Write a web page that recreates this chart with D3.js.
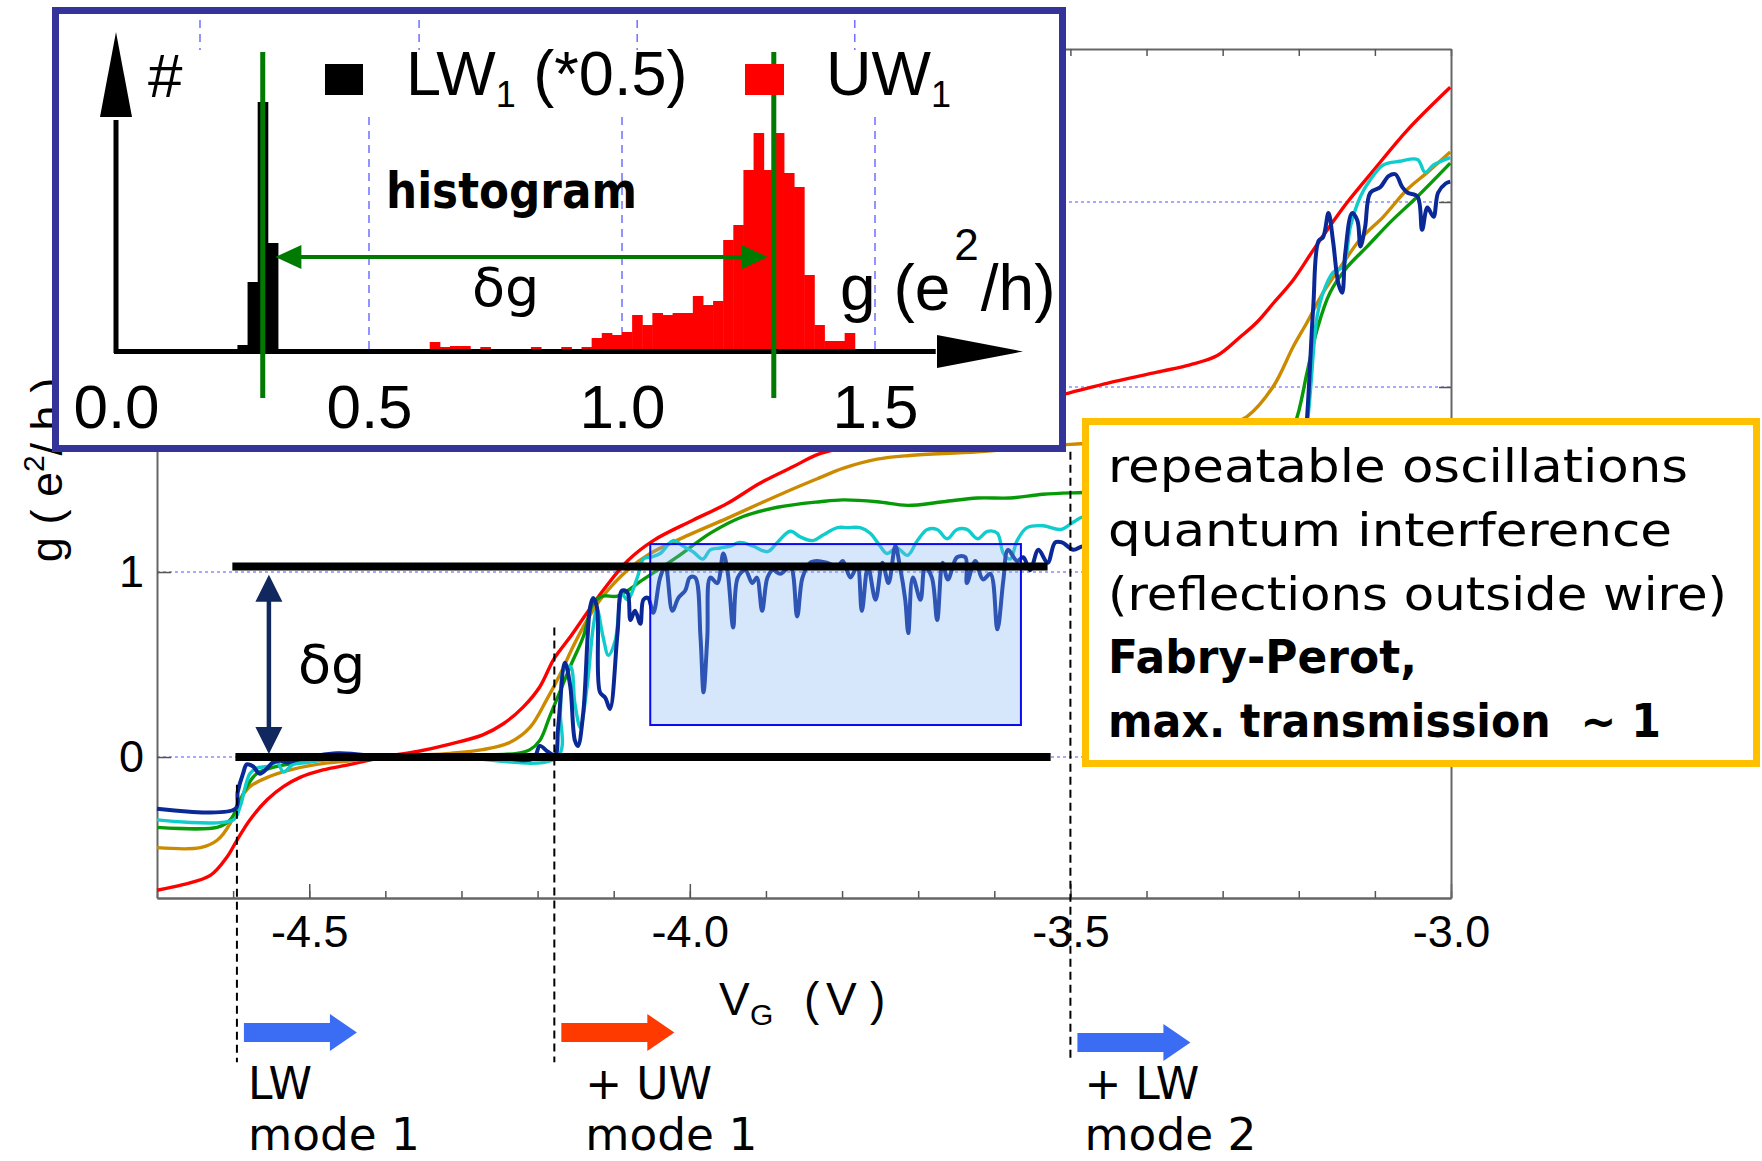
<!DOCTYPE html>
<html lang="en">
<head><meta charset="utf-8">
<title>Conductance steps - D3</title>
<style>
body {
  margin: 0;
  background: #ffffff;
}
.arial { font-family: "Liberation Sans", Arial, sans-serif; }
.gothic { font-family: "DejaVu Sans", sans-serif; }
</style>
</head>
<body>
<svg id="chart"></svg>
<script src="https://d3js.org/d3.v7.min.js"></script>
<script>

var width = 1762, height = 1161;

// gate voltage (V), conductance g (e^2/h)
var redTrace = [[-4.700,-0.72],[-4.666,-0.69],[-4.630,-0.64],[-4.608,-0.54],[-4.595,-0.45],[-4.578,-0.34],[-4.555,-0.23],[-4.534,-0.16],[-4.512,-0.11],[-4.482,-0.07],[-4.446,-0.04],[-4.403,0.00],[-4.358,0.03],[-4.315,0.07],[-4.272,0.12],[-4.245,0.18],[-4.219,0.27],[-4.197,0.38],[-4.180,0.52],[-4.170,0.58],[-4.157,0.65],[-4.135,0.78],[-4.114,0.90],[-4.082,1.06],[-4.048,1.17],[-3.996,1.28],[-3.951,1.37],[-3.908,1.48],[-3.864,1.57],[-3.829,1.64],[-3.724,1.74],[-3.619,1.86],[-3.500,1.97],[-3.452,2.02],[-3.386,2.08],[-3.343,2.12],[-3.307,2.17],[-3.277,2.27],[-3.255,2.35],[-3.234,2.45],[-3.207,2.58],[-3.181,2.74],[-3.159,2.87],[-3.136,3.00],[-3.102,3.17],[-3.057,3.39],[-3.001,3.62]];

var orangeTrace = [[-4.700,-0.49],[-4.643,-0.49],[-4.621,-0.45],[-4.604,-0.36],[-4.591,-0.23],[-4.578,-0.16],[-4.555,-0.11],[-4.525,-0.07],[-4.490,-0.04],[-4.446,-0.02],[-4.403,0.00],[-4.358,0.01],[-4.315,0.02],[-4.272,0.04],[-4.236,0.08],[-4.210,0.16],[-4.188,0.31],[-4.170,0.45],[-4.153,0.60],[-4.135,0.74],[-4.114,0.87],[-4.082,1.01],[-4.052,1.10],[-3.996,1.21],[-3.951,1.29],[-3.908,1.37],[-3.864,1.45],[-3.829,1.51],[-3.799,1.56],[-3.754,1.61],[-3.711,1.63],[-3.622,1.65],[-3.500,1.69],[-3.395,1.71],[-3.329,1.76],[-3.290,1.80],[-3.268,1.84],[-3.234,2.00],[-3.207,2.22],[-3.189,2.35],[-3.168,2.51],[-3.145,2.65],[-3.119,2.80],[-3.089,2.92],[-3.057,3.07],[-3.031,3.16],[-3.001,3.27]];

var greenTrace = [[-4.700,-0.38],[-4.621,-0.38],[-4.604,-0.34],[-4.594,-0.27],[-4.582,-0.16],[-4.569,-0.09],[-4.542,-0.05],[-4.512,-0.03],[-4.469,-0.01],[-4.227,0.02],[-4.210,0.04],[-4.197,0.09],[-4.184,0.22],[-4.170,0.36],[-4.157,0.49],[-4.140,0.65],[-4.127,0.83],[-4.114,0.87],[-4.095,0.87],[-4.061,0.96],[-4.017,1.08],[-3.973,1.21],[-3.930,1.30],[-3.885,1.35],[-3.829,1.38],[-3.799,1.39],[-3.754,1.38],[-3.714,1.36],[-3.667,1.38],[-3.622,1.40],[-3.579,1.40],[-3.536,1.42],[-3.483,1.43],[-3.329,1.45],[-3.251,1.50],[-3.224,1.60],[-3.202,1.84],[-3.189,2.08],[-3.176,2.31],[-3.159,2.51],[-3.136,2.65],[-3.110,2.76],[-3.080,2.89],[-3.044,3.03],[-3.001,3.21]];

var cyanTrace = [[-4.700,-0.34],[-4.600,-0.34],[-4.591,-0.27],[-4.584,-0.16],[-4.578,-0.09],[-4.569,-0.06],[-4.555,-0.05],[-4.542,-0.03],[-4.534,-0.08],[-4.521,-0.04],[-4.503,-0.03],[-4.469,-0.01],[-4.315,0.00],[-4.174,0.00],[-4.170,0.25],[-4.166,0.47],[-4.157,0.49],[-4.151,0.29],[-4.144,0.16],[-4.135,0.38],[-4.127,0.70],[-4.122,0.80],[-4.114,0.65],[-4.107,0.55],[-4.098,0.63],[-4.089,0.88],[-4.082,0.85],[-4.069,0.97],[-4.061,1.07],[-4.052,1.08],[-4.039,1.10],[-4.022,1.17],[-4.009,1.14],[-3.996,1.11],[-3.983,1.07],[-3.973,1.12],[-3.960,1.13],[-3.947,1.14],[-3.934,1.16],[-3.917,1.14],[-3.898,1.11],[-3.885,1.16],[-3.868,1.22],[-3.855,1.19],[-3.838,1.17],[-3.825,1.20],[-3.806,1.24],[-3.793,1.24],[-3.776,1.24],[-3.763,1.21],[-3.750,1.14],[-3.741,1.10],[-3.728,1.13],[-3.714,1.09],[-3.701,1.17],[-3.688,1.23],[-3.675,1.23],[-3.662,1.18],[-3.649,1.23],[-3.636,1.23],[-3.622,1.18],[-3.609,1.22],[-3.596,1.21],[-3.588,1.10],[-3.579,1.07],[-3.570,1.17],[-3.557,1.24],[-3.536,1.25],[-3.513,1.23],[-3.496,1.27],[-3.483,1.30],[-3.395,1.32],[-3.290,1.35],[-3.211,1.44],[-3.192,1.71],[-3.176,2.38],[-3.168,2.51],[-3.155,2.62],[-3.142,2.65],[-3.132,2.87],[-3.119,3.03],[-3.106,3.12],[-3.089,3.20],[-3.067,3.22],[-3.044,3.23],[-3.034,3.16],[-3.023,3.20],[-3.001,3.24]];

var navyTrace = [[-4.700,-0.28],[-4.597,-0.28],[-4.594,-0.19],[-4.587,-0.09],[-4.582,-0.04],[-4.574,-0.05],[-4.565,-0.09],[-4.555,-0.06],[-4.548,-0.03],[-4.538,-0.02],[-4.529,-0.03],[-4.521,-0.02],[-4.463,0.02],[-4.403,0.00],[-4.350,-0.01],[-4.319,-0.01],[-4.272,0.01],[-4.206,-0.01],[-4.197,0.06],[-4.187,0.03],[-4.177,0.01],[-4.173,0.16],[-4.164,0.51],[-4.157,0.38],[-4.151,0.09],[-4.147,0.06],[-4.140,0.24],[-4.131,0.81],[-4.127,0.86],[-4.122,0.81],[-4.118,0.35],[-4.111,0.32],[-4.105,0.26],[-4.095,0.67],[-4.089,0.90],[-4.082,0.89],[-4.078,0.74],[-4.072,0.79],[-4.065,0.72],[-4.061,0.85],[-4.055,0.86],[-4.048,0.78],[-4.039,0.97],[-4.032,1.03],[-4.023,0.79],[-4.015,0.86],[-4.006,0.90],[-4.000,0.97],[-3.993,0.97],[-3.986,0.65],[-3.982,0.35],[-3.977,0.65],[-3.973,0.97],[-3.964,0.94],[-3.956,1.10],[-3.950,0.99],[-3.943,0.70],[-3.937,0.97],[-3.927,1.01],[-3.918,0.94],[-3.912,0.97],[-3.905,0.79],[-3.898,0.97],[-3.891,1.01],[-3.881,0.99],[-3.868,1.03],[-3.859,0.76],[-3.852,0.97],[-3.842,1.05],[-3.833,1.06],[-3.820,1.05],[-3.806,1.03],[-3.799,1.06],[-3.789,0.97],[-3.780,1.03],[-3.774,0.79],[-3.766,1.03],[-3.756,0.85],[-3.747,1.05],[-3.739,0.94],[-3.730,1.14],[-3.724,1.03],[-3.717,0.85],[-3.713,0.67],[-3.707,0.97],[-3.697,0.85],[-3.691,1.03],[-3.682,0.97],[-3.675,0.74],[-3.668,1.05],[-3.661,0.96],[-3.649,1.08],[-3.638,1.08],[-3.636,0.94],[-3.625,1.06],[-3.615,0.96],[-3.605,0.99],[-3.596,0.69],[-3.588,0.96],[-3.582,1.12],[-3.570,1.06],[-3.562,1.08],[-3.553,1.01],[-3.542,1.12],[-3.530,1.05],[-3.520,1.16],[-3.511,1.16],[-3.496,1.12],[-3.483,1.14],[-3.395,1.13],[-3.290,1.15],[-3.211,1.17],[-3.198,1.39],[-3.189,1.84],[-3.181,2.43],[-3.174,2.79],[-3.168,2.81],[-3.161,2.94],[-3.155,2.79],[-3.148,2.56],[-3.143,2.51],[-3.139,2.72],[-3.130,2.94],[-3.123,2.90],[-3.119,2.76],[-3.113,2.86],[-3.106,3.05],[-3.093,3.08],[-3.082,3.14],[-3.073,3.15],[-3.064,3.08],[-3.057,3.05],[-3.044,3.03],[-3.038,2.85],[-3.031,2.97],[-3.023,2.92],[-3.017,3.05],[-3.007,3.10],[-3.001,3.11]];

var traceColors = ["#ff0000", "#cc8a00", "#079a07", "#10cccc", "#0a2896"];

var xMinorTicks = [-4.7,-4.6,-4.5,-4.4,-4.3,-4.2,-4.1,-4.0,-3.9,-3.8,-3.7,-3.6,-3.5,-3.4,-3.3,-3.2,-3.1,-3.0];
var xMajorTicks = [-4.5, -4.0, -3.5, -3.0];
var yTicks = [0, 1, 2, 3];

var levelG = [1.03, 0];
var levelStart = [-4.601, -4.597];
var levelEnd = [-3.530, -3.526];

var windowV = [-4.052, -3.565];
var windowG = [0.173, 1.151];

var modeV = [-4.595, -4.178, -3.5];
var modeTopG = [-0.15, 0.70, 1.65];
var modeLine1 = ["LW", "+ UW", "+ LW"];
var modeLine2 = ["mode 1", "mode 1", "mode 2"];
var modeColors = ["#3a6cf4", "#ff3a00", "#3a6cf4"];

var deltaV = -4.553;

// inset histogram, bins of 0.02 e^2/h, counts in arbitrary units
var lwBinStart = [0.24, 0.26, 0.28, 0.30];
var lwCounts = [5, 68, 248, 107];
var uwBinStart = [0.62,0.64,0.66,0.68,0.70,0.72,0.74,0.76,0.78,0.80,0.82,0.84,0.86,0.88,0.90,0.92,0.94,0.96,0.98,1.00,1.02,1.04,1.06,1.08,1.10,1.12,1.14,1.16,1.18,1.20,1.22,1.24,1.26,1.28,1.30,1.32,1.34,1.36,1.38,1.40,1.42,1.44];
var uwCounts = [8,3,4,4,0,3,0,0,0,0,3,0,0,3,0,3,12,17,15,18,35,25,37,35,37,37,54,45,49,110,125,180,217,180,217,177,163,75,25,9,9,17];
var binWidth = 0.02;
var insetTicks = [0.0, 0.5, 1.0, 1.5];
var insetMarkers = [0.29, 1.30];
var insetTopGrid = [0.166, 0.599, 1.030, 1.460];

var noteLines = ["repeatable oscillations", "quantum interference", "(reflections outside wire)", "Fabry-Perot,", "max. transmission  ~ 1"];
var noteBold = [false, false, false, true, true];
var noteLength = [580, 564, 619, 309, 553];

var svg = d3.select("#chart")
    .attr("width", width)
    .attr("height", height);

var x = d3.scaleLinear().domain([-4.7, -3.0]).range([157, 1451]);
var y = d3.scaleLinear().domain([-0.762, 3.827]).range([898, 49]);

// dotted grid
svg.append("g").selectAll("line").data(yTicks).join("line")
    .attr("x1", x(-4.7)).attr("x2", x(-3.0))
    .attr("y1", d => y(d)).attr("y2", d => y(d))
    .attr("stroke", "#8c8cff").attr("stroke-width", 1.5)
    .attr("stroke-dasharray", "3,3");

function styleAxis(g) {
  g.select(".domain").attr("stroke", "#666").attr("stroke-width", 2);
  g.selectAll(".tick line").attr("stroke", "#555").attr("stroke-width", 1.5);
  g.attr("font-family", "Liberation Sans, Arial, sans-serif").attr("font-size", 45);
}

svg.append("g").attr("transform", "translate(0,898)")
    .call(d3.axisBottom(x).tickValues(xMinorTicks).tickSize(-7).tickSizeOuter(0).tickFormat(""))
    .call(styleAxis);
svg.append("g").attr("transform", "translate(0,898)")
    .call(d3.axisBottom(x).tickValues(xMajorTicks).tickSize(-14).tickSizeOuter(0).tickPadding(17)
      .tickFormat(d => d.toFixed(1)))
    .call(styleAxis);
svg.append("g").attr("transform", "translate(0,49)")
    .call(d3.axisTop(x).tickValues(xMinorTicks).tickSize(-7).tickSizeOuter(0).tickFormat(""))
    .call(styleAxis);
svg.append("g").attr("transform", "translate(157,0)")
    .call(d3.axisLeft(y).tickValues(yTicks).tickSize(-14).tickSizeOuter(0).tickPadding(13)
      .tickFormat(d3.format("d")))
    .call(styleAxis);
svg.append("g").attr("transform", "translate(1451,0)")
    .call(d3.axisRight(y).tickValues(yTicks).tickSize(-12).tickSizeOuter(0).tickFormat(""))
    .call(styleAxis);

// traces
var line = d3.line()
    .x(d => x(d[0]))
    .y(d => y(d[1]))
    .curve(d3.curveCatmullRom.alpha(0.5));

[redTrace, orangeTrace, greenTrace, cyanTrace, navyTrace].forEach(function(t, i) {
  svg.append("path")
      .datum(t)
      .attr("d", line)
      .attr("fill", "none")
      .attr("stroke", traceColors[i])
      .attr("stroke-width", i == 4 ? 4 : 3.4)
      .attr("stroke-linejoin", "round");
});

// shaded window
svg.append("rect")
    .attr("x", x(windowV[0])).attr("y", y(windowG[1]))
    .attr("width", x(windowV[1]) - x(windowV[0]))
    .attr("height", y(windowG[0]) - y(windowG[1]))
    .attr("fill", "#7fb4f5").attr("fill-opacity", 0.32)
    .attr("stroke", "#0a0af0").attr("stroke-width", 2);

// level bars
svg.append("g").selectAll("line").data(levelG).join("line")
    .attr("x1", (d, i) => x(levelStart[i])).attr("x2", (d, i) => x(levelEnd[i]))
    .attr("y1", d => y(d)).attr("y2", d => y(d))
    .attr("stroke", "#000").attr("stroke-width", 8);

// mode onsets
svg.append("g").selectAll("line").data(modeV).join("line")
    .attr("x1", d => x(d)).attr("x2", d => x(d))
    .attr("y1", (d, i) => y(modeTopG[i])).attr("y2", y(-1.65))
    .attr("stroke", "#000").attr("stroke-width", 2)
    .attr("stroke-dasharray", "8,5");

// delta g arrow
var ax = x(deltaV), aTop = y(0.985), aBot = y(0) - 3;
svg.append("line").attr("x1", ax).attr("x2", ax).attr("y1", aTop + 20).attr("y2", aBot - 20)
    .attr("stroke", "#11285e").attr("stroke-width", 4.5);
svg.append("path")
    .attr("d", "M" + ax + "," + aTop + "L" + (ax - 13.5) + "," + (aTop + 27) + "L" + (ax + 13.5) + "," + (aTop + 27) + "Z" +
               "M" + ax + "," + aBot + "L" + (ax - 13.5) + "," + (aBot - 27) + "L" + (ax + 13.5) + "," + (aBot - 27) + "Z")
    .attr("fill", "#11285e");
svg.append("text").attr("class", "gothic")
    .attr("x", ax + 29).attr("y", y(0) - 74)
    .attr("font-size", 54).text("δg");

// axis titles
var yl = svg.append("text").attr("class", "arial")
    .attr("transform", "translate(62,470) rotate(-90)")
    .attr("text-anchor", "middle").attr("font-size", 45);
yl.append("tspan").text("g ( e");
yl.append("tspan").attr("font-size", 30).attr("dy", -18).text("2");
yl.append("tspan").attr("dy", 18).text("/ h )");

var xl = svg.append("text").attr("class", "arial").attr("y", 1015).attr("font-size", 46);
xl.append("tspan").attr("x", 719).text("V");
xl.append("tspan").attr("x", 750).attr("dy", 10).attr("font-size", 30).text("G");
xl.append("tspan").attr("x", 804).attr("dy", -10).text("(");
xl.append("tspan").attr("x", 826).text("V");
xl.append("tspan").attr("x", 870).text(")");

// mode arrows and labels
var labelShift = [4, 24, 7];
modeV.forEach(function(v, i) {
  var x0 = x(v) + 7, cy = i == 2 ? 1042.5 : 1032.5;
  svg.append("path")
      .attr("d", "M" + x0 + "," + (cy - 9.5) + "H" + (x0 + 86) + "V" + (cy - 18.5) + "L" + (x0 + 113) + "," + cy +
                 "L" + (x0 + 86) + "," + (cy + 18.5) + "V" + (cy + 9.5) + "H" + x0 + "Z")
      .attr("fill", modeColors[i]);
  svg.append("text").attr("class", "gothic").attr("x", x0 + labelShift[i]).attr("y", 1099)
      .attr("font-size", 44).text(modeLine1[i]);
  svg.append("text").attr("class", "gothic").attr("x", x0 + labelShift[i]).attr("y", 1150)
      .attr("font-size", 44).attr("textLength", 172).attr("lengthAdjust", "spacingAndGlyphs")
      .text(modeLine2[i]);
});

// ---------- inset ----------
var inset = svg.append("g");
var ix = d3.scaleLinear().domain([0, 1.5]).range([116, 875]);
var iy = d3.scaleLinear().domain([0, 250]).range([350, 100]);

inset.append("rect")
    .attr("x", 55.5).attr("y", 10.5).attr("width", 1007).attr("height", 438)
    .attr("fill", "#fff").attr("stroke", "#333399").attr("stroke-width", 7);

inset.append("g").selectAll("line").data(insetTicks.slice(1)).join("line")
    .attr("x1", d => ix(d)).attr("x2", d => ix(d))
    .attr("y1", iy(233)).attr("y2", iy(0))
    .attr("stroke", "#7070ff").attr("stroke-width", 1.5).attr("stroke-dasharray", "8,6");
inset.append("g").selectAll("line").data(insetTopGrid).join("line")
    .attr("x1", d => ix(d)).attr("x2", d => ix(d))
    .attr("y1", 20).attr("y2", 50)
    .attr("stroke", "#7070ff").attr("stroke-width", 1.5).attr("stroke-dasharray", "8,6");

inset.append("g").selectAll("rect").data(uwCounts).join("rect")
    .attr("x", (d, i) => ix(uwBinStart[i]))
    .attr("width", (d, i) => ix(uwBinStart[i] + binWidth) - ix(uwBinStart[i]) + 0.5)
    .attr("y", d => iy(d)).attr("height", d => iy(0) - iy(d))
    .attr("fill", "#ff0000");
inset.append("g").selectAll("rect").data(lwCounts).join("rect")
    .attr("x", (d, i) => ix(lwBinStart[i]))
    .attr("width", (d, i) => ix(lwBinStart[i] + binWidth) - ix(lwBinStart[i]) + 0.5)
    .attr("y", d => iy(d)).attr("height", d => iy(0) - iy(d))
    .attr("fill", "#000");

// inset arrows (axes)
inset.append("line").attr("x1", ix(0)).attr("x2", ix(0)).attr("y1", iy(-3)).attr("y2", iy(230))
    .attr("stroke", "#000").attr("stroke-width", 5);
inset.append("path")
    .attr("d", "M" + ix(0) + ",32L" + (ix(0) - 16) + ",117L" + (ix(0) + 16) + ",117Z").attr("fill", "#000");
inset.append("line").attr("x1", ix(0) - 2).attr("x2", ix(1.62)).attr("y1", iy(-1.5)).attr("y2", iy(-1.5))
    .attr("stroke", "#000").attr("stroke-width", 5);
inset.append("path")
    .attr("d", "M1023," + iy(-1.5) + "L937," + (iy(-1.5) - 16.5) + "L937," + (iy(-1.5) + 16.5) + "Z")
    .attr("fill", "#000");

inset.append("g").attr("transform", "translate(0," + iy(-1.5) + ")")
    .call(d3.axisBottom(ix).tickValues(insetTicks).tickSize(0).tickPadding(32).tickFormat(d3.format(".1f")))
    .call(g => g.select(".domain").remove())
    .attr("font-family", "Liberation Sans, Arial, sans-serif").attr("font-size", 62);

// peak markers
inset.append("g").selectAll("line").data(insetMarkers).join("line")
    .attr("x1", d => ix(d)).attr("x2", d => ix(d))
    .attr("y1", iy(298)).attr("y2", iy(-48))
    .attr("stroke", "#007a00").attr("stroke-width", 5);
var gy = iy(93), gx0 = ix(0.315), gx1 = ix(1.288);
inset.append("line").attr("x1", gx0 + 20).attr("x2", gx1 - 20).attr("y1", gy).attr("y2", gy)
    .attr("stroke", "#007a00").attr("stroke-width", 4);
inset.append("path")
    .attr("d", "M" + gx0 + "," + gy + "L" + (gx0 + 26) + "," + (gy - 12) + "L" + (gx0 + 26) + "," + (gy + 12) + "Z" +
               "M" + gx1 + "," + gy + "L" + (gx1 - 26) + "," + (gy - 12) + "L" + (gx1 - 26) + "," + (gy + 12) + "Z")
    .attr("fill", "#007a00");

// inset labels
inset.append("text").attr("class", "arial").attr("x", 148).attr("y", 97).attr("font-size", 62).text("#");
inset.append("rect").attr("x", 325).attr("y", 64).attr("width", 38).attr("height", 31).attr("fill", "#000");
inset.append("rect").attr("x", 745).attr("y", 64).attr("width", 39).attr("height", 31).attr("fill", "#ff0000");
var lw = inset.append("text").attr("class", "arial").attr("x", 406).attr("y", 95).attr("font-size", 63);
lw.append("tspan").text("LW");
lw.append("tspan").attr("font-size", 36).attr("dy", 12).text("1");
lw.append("tspan").attr("dy", -12).text(" (*0.5)");
var uw = inset.append("text").attr("class", "arial").attr("x", 826).attr("y", 95).attr("font-size", 63);
uw.append("tspan").text("UW");
uw.append("tspan").attr("font-size", 36).attr("dy", 12).text("1");

inset.append("text").attr("class", "gothic").attr("x", 386).attr("y", 208)
    .attr("font-size", 50).attr("font-weight", "bold")
    .attr("textLength", 251).attr("lengthAdjust", "spacingAndGlyphs").text("histogram");
inset.append("text").attr("class", "gothic").attr("x", 472).attr("y", 306)
    .attr("font-size", 54).text("δg");

var gl = inset.append("text").attr("class", "arial").attr("x", 840).attr("y", 310).attr("font-size", 64);
gl.append("tspan").text("g (e");
gl.append("tspan").attr("font-size", 44).attr("dy", -50).attr("dx", 4).text("2");
gl.append("tspan").attr("dy", 50).attr("dx", 2).text("/h)");

// ---------- note box ----------
svg.append("rect")
    .attr("x", 1085.5).attr("y", 421.5).attr("width", 671).attr("height", 342)
    .attr("fill", "#fff").attr("stroke", "#ffc000").attr("stroke-width", 7);

svg.append("g").selectAll("text").data(noteLines).join("text")
    .attr("class", "gothic")
    .attr("x", 1108)
    .attr("y", (d, i) => 482 + i * 63.8)
    .attr("font-size", 47)
    .attr("font-weight", (d, i) => noteBold[i] ? "bold" : "normal")
    .attr("textLength", (d, i) => noteLength[i])
    .attr("lengthAdjust", "spacingAndGlyphs")
    .style("white-space", "pre")
    .text(d => d);

</script>
</body>
</html>
